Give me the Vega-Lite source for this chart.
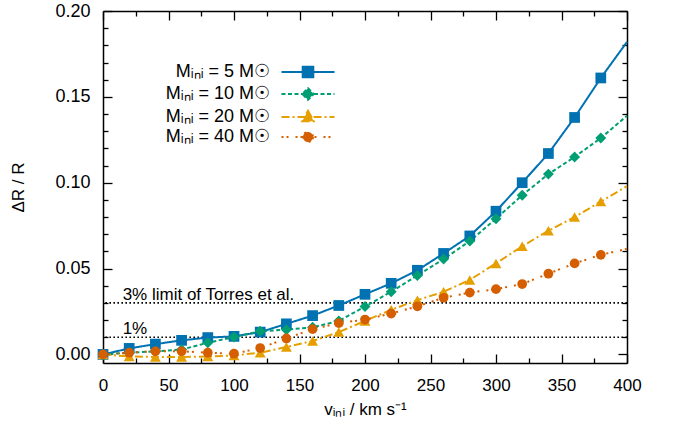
{
  "$schema": "https://vega.github.io/schema/vega-lite/v6.json",
  "width": 524,
  "height": 352,
  "autosize": {"type": "none"},
  "padding": {"left": 103, "top": 11, "right": 49, "bottom": 72},
  "config": {
    "view": {"stroke": null},
    "font": "Liberation Sans",
    "axis": {
      "grid": false, "domainColor": "#000", "domainWidth": 1.5, "tickColor": "#000", "tickWidth": 1.3,
      "labelColor": "#000", "labelFontSize": 17, "labelFont": "Liberation Sans",
      "titleFont": "Liberation Sans", "titleFontSize": 17, "titleFontWeight": "normal", "titleColor": "#000",
      "labelFlush": false, "labelOverlap": false
    }
  },
  "datasets": {
    "curves": [
      {"s":"5","v":0,"r":0},{"s":"5","v":20,"r":0.0035},{"s":"5","v":40,"r":0.006},{"s":"5","v":60,"r":0.0082},{"s":"5","v":80,"r":0.0098},{"s":"5","v":100,"r":0.0105},{"s":"5","v":120,"r":0.013},{"s":"5","v":140,"r":0.0178},{"s":"5","v":160,"r":0.0226},{"s":"5","v":180,"r":0.0285},{"s":"5","v":200,"r":0.035},{"s":"5","v":220,"r":0.0414},{"s":"5","v":240,"r":0.049},{"s":"5","v":260,"r":0.0588},{"s":"5","v":280,"r":0.069},{"s":"5","v":300,"r":0.0834},{"s":"5","v":320,"r":0.1},{"s":"5","v":340,"r":0.117},{"s":"5","v":360,"r":0.138},{"s":"5","v":380,"r":0.161},{"s":"5","v":400,"r":0.182},
      {"s":"10","v":0,"r":0},{"s":"10","v":20,"r":0.001},{"s":"10","v":40,"r":0.0018},{"s":"10","v":60,"r":0.0028},{"s":"10","v":80,"r":0.0068},{"s":"10","v":100,"r":0.0101},{"s":"10","v":120,"r":0.0135},{"s":"10","v":140,"r":0.0144},{"s":"10","v":160,"r":0.0158},{"s":"10","v":180,"r":0.0195},{"s":"10","v":200,"r":0.0279},{"s":"10","v":220,"r":0.0365},{"s":"10","v":240,"r":0.046},{"s":"10","v":260,"r":0.0555},{"s":"10","v":280,"r":0.066},{"s":"10","v":300,"r":0.079},{"s":"10","v":320,"r":0.0927},{"s":"10","v":340,"r":0.105},{"s":"10","v":360,"r":0.115},{"s":"10","v":380,"r":0.126},{"s":"10","v":400,"r":0.139},
      {"s":"20","v":0,"r":0},{"s":"20","v":20,"r":-0.0012},{"s":"20","v":40,"r":-0.0015},{"s":"20","v":60,"r":-0.0015},{"s":"20","v":80,"r":-0.0012},{"s":"20","v":100,"r":-0.0006},{"s":"20","v":120,"r":0.001},{"s":"20","v":140,"r":0.0043},{"s":"20","v":160,"r":0.0078},{"s":"20","v":180,"r":0.013},{"s":"20","v":200,"r":0.0195},{"s":"20","v":220,"r":0.026},{"s":"20","v":240,"r":0.0316},{"s":"20","v":260,"r":0.0365},{"s":"20","v":280,"r":0.0434},{"s":"20","v":300,"r":0.053},{"s":"20","v":320,"r":0.063},{"s":"20","v":340,"r":0.072},{"s":"20","v":360,"r":0.08},{"s":"20","v":380,"r":0.089},{"s":"20","v":400,"r":0.098},
      {"s":"40","v":0,"r":0},{"s":"40","v":20,"r":0.001},{"s":"40","v":40,"r":0.0018},{"s":"40","v":60,"r":0.0018},{"s":"40","v":80,"r":0.001},{"s":"40","v":100,"r":0.0004},{"s":"40","v":120,"r":0.0037},{"s":"40","v":140,"r":0.0093},{"s":"40","v":160,"r":0.0147},{"s":"40","v":180,"r":0.0182},{"s":"40","v":200,"r":0.0203},{"s":"40","v":220,"r":0.0238},{"s":"40","v":240,"r":0.028},{"s":"40","v":260,"r":0.033},{"s":"40","v":280,"r":0.036},{"s":"40","v":300,"r":0.038},{"s":"40","v":320,"r":0.041},{"s":"40","v":340,"r":0.047},{"s":"40","v":360,"r":0.053},{"s":"40","v":380,"r":0.058},{"s":"40","v":400,"r":0.0615}
    ],
    "limits": [
      {"y": 0.03, "label": "3% limit of Torres et al."},
      {"y": 0.01, "label": "1%"}
    ]
  },
  "resolve": {"axis": {"x": "independent", "y": "independent"}},
  "layer": [
    {
      "data": {"name": "limits"},
      "mark": {"type": "rule", "color": "#000", "strokeWidth": 1.6, "strokeDash": [1.6, 2.4]},
      "encoding": {"y": {"field": "y", "type": "quantitative", "axis": null}}
    },
    {
      "data": {"name": "limits"},
      "mark": {"type": "text", "align": "left", "baseline": "alphabetic", "dy": -3, "fontSize": 17, "font": "Liberation Sans", "color": "#000"},
      "encoding": {
        "x": {"datum": 15, "type": "quantitative", "axis": null},
        "y": {"field": "y", "type": "quantitative", "axis": null},
        "text": {"field": "label"}
      }
    },
    {
      "data": {"name": "curves"},
      "mark": {"type": "line", "strokeWidth": 2},
      "encoding": {
        "x": {"field": "v", "type": "quantitative", "scale": {"domain": [0, 400], "nice": false},
              "axis": {"orient": "bottom", "values": [0,50,100,150,200,250,300,350,400], "tickSize": -9, "labelPadding": 23, "title": "vᵢₙᵢ / km s⁻¹", "titlePadding": 8}},
        "y": {"field": "r", "type": "quantitative", "scale": {"domain": [-0.005, 0.2], "nice": false, "zero": false},
              "axis": {"orient": "left", "values": [0,0.05,0.1,0.15,0.2], "format": ".2f", "tickSize": -9, "labelPadding": 22, "labelFontSize": 18, "title": "ΔR / R", "titlePadding": 27}},
        "color": {"field": "s", "type": "nominal",
          "scale": {"domain": ["5","10","20","40"], "range": ["#0072B2","#009E73","#E69F00","#D55E00"]},
          "legend": {
            "title": null, "orient": "none", "legendX": 196, "legendY": 52, "padding": 0, "rowPadding": 2,
            "labelAlign": "right", "labelBaseline": "middle", "labelOffset": -47, "labelFontSize": 18, "labelFont": "Liberation Sans", "labelColor": "#000", "labelLimit": 0,
            "symbolSize": 100, "symbolStrokeWidth": 2, "symbolOpacity": 1,
            "labelExpr": "'Mᵢₙᵢ = ' + datum.label + ' M☉'",
            "encode": {"symbols": {"update": {
              "shape": {"signal": "datum.value === '5' ? 'M-5.3,0H5.3M-1.06,-1.06H1.06V1.06H-1.06Z' : datum.value === '10' ? 'M-5.3,0H5.3M0,-1.15L1.15,0L0,1.15L-1.15,0Z' : datum.value === '20' ? 'M-5.3,0H5.3M0,-1.25L1.15,0.85L-1.15,0.85Z' : 'M-5.3,0H5.3M1,0A1,1,0,1,1,-1,0A1,1,0,1,1,1,0Z'"},
              "strokeDash": {"signal": "datum.value === '5' ? [1,0] : datum.value === '10' ? [4,2.5] : datum.value === '20' ? [8,3,2,3] : [2,3,2,7]"},
              "fill": {"scale": "color", "field": "value"},
              "stroke": {"scale": "color", "field": "value"},
              "strokeWidth": {"value": 2},
              "opacity": {"value": 1}
            }}}
          }},
        "strokeDash": {"field": "s", "type": "nominal", "scale": {"domain": ["5","10","20","40"], "range": [[1,0],[4,2.5],[8,3,2,3],[2,3,2,7]]}, "legend": null}
      }
    },
    {
      "data": {"name": "curves"},
      "transform": [{"filter": "datum.s === '5' && datum.v < 400"}],
      "mark": {"type": "point", "shape": "square", "filled": true, "opacity": 1, "size": 115, "color": "#0072B2"},
      "encoding": {
        "x": {"field": "v", "type": "quantitative",
              "axis": {"orient": "bottom", "values": [25,75,125,175,225,275,325,375], "tickSize": -5, "labels": false, "domain": false, "title": null}},
        "y": {"field": "r", "type": "quantitative",
              "axis": {"orient": "left", "values": [0.01,0.02,0.03,0.04,0.06,0.07,0.08,0.09,0.11,0.12,0.13,0.14,0.16,0.17,0.18,0.19], "tickSize": -5, "labels": false, "domain": false, "title": null}}
      }
    },
    {
      "data": {"name": "curves"},
      "transform": [{"filter": "datum.s === '10' && datum.v < 400"}],
      "mark": {"type": "point", "shape": "diamond", "filled": true, "opacity": 1, "size": 120, "color": "#009E73"},
      "encoding": {
        "x": {"field": "v", "type": "quantitative", "axis": null},
        "y": {"field": "r", "type": "quantitative", "axis": null}
      }
    },
    {
      "data": {"name": "curves"},
      "transform": [{"filter": "datum.s === '20' && datum.v < 400"}],
      "mark": {"type": "point", "shape": "triangle-up", "filled": true, "opacity": 1, "size": 120, "color": "#E69F00"},
      "encoding": {
        "x": {"field": "v", "type": "quantitative", "axis": null},
        "y": {"field": "r", "type": "quantitative", "axis": null}
      }
    },
    {
      "data": {"name": "curves"},
      "transform": [{"filter": "datum.s === '40' && datum.v < 400"}],
      "mark": {"type": "point", "shape": "circle", "filled": true, "opacity": 1, "size": 95, "color": "#D55E00"},
      "encoding": {
        "x": {"field": "v", "type": "quantitative", "axis": null},
        "y": {"field": "r", "type": "quantitative", "axis": null}
      }
    },
    {
      "data": {"name": "curves"},
      "mark": {"type": "point", "opacity": 0},
      "encoding": {
        "x": {"field": "v", "type": "quantitative",
              "axis": {"orient": "top", "values": [0,50,100,150,200,250,300,350,400], "tickSize": -9, "labels": false, "domain": true, "title": null}},
        "y": {"field": "r", "type": "quantitative",
              "axis": {"orient": "right", "values": [0,0.05,0.1,0.15,0.2], "tickSize": -9, "labels": false, "domain": true, "title": null}}
      }
    },
    {
      "data": {"name": "curves"},
      "mark": {"type": "point", "opacity": 0},
      "encoding": {
        "x": {"field": "v", "type": "quantitative",
              "axis": {"orient": "top", "values": [25,75,125,175,225,275,325,375], "tickSize": -5, "labels": false, "domain": false, "title": null}},
        "y": {"field": "r", "type": "quantitative",
              "axis": {"orient": "right", "values": [0.01,0.02,0.03,0.04,0.06,0.07,0.08,0.09,0.11,0.12,0.13,0.14,0.16,0.17,0.18,0.19], "tickSize": -5, "labels": false, "domain": false, "title": null}}
      }
    }
  ]
}
